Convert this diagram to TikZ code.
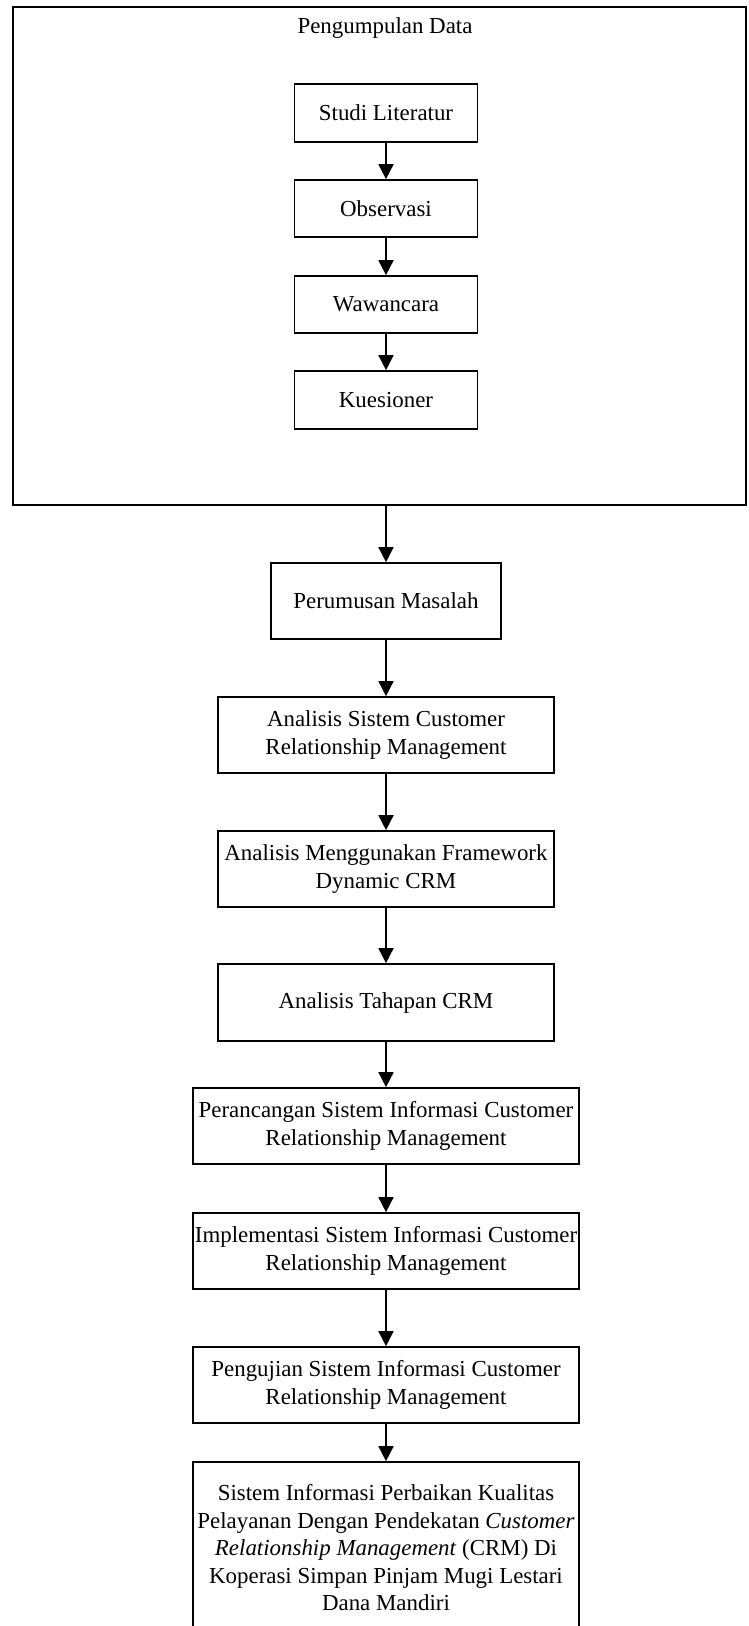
\documentclass[tikz,border=0pt]{standalone}
\usepackage{fontspec}
\setmainfont{Liberation Serif}
\usetikzlibrary{arrows.meta}
\newcommand\diagfs{\fontsize{22.9pt}{27.5pt}\selectfont}
\tikzset{
  box/.style={draw=black, line width=1.7pt, inner sep=0pt, align=center, font=\diagfs, text=black},
  arr/.style={-{Triangle[width=15pt,length=15pt]}, line width=1.7pt, draw=black},
}
\begin{document}
\begin{tikzpicture}[x=1pt,y=1pt]
\useasboundingbox (0,0) rectangle (748,-1626);
\clip (0,0) rectangle (748,-1626);
\fill[white] (0,0) rectangle (748,-1626);
% outer group
\node[box, minimum width=733pt, minimum height=498pt] (outer) at (379.5,-256) {};
\node[font=\diagfs, inner sep=0pt] (title) at (385,-28) {Pengumpulan Data};
\node[box, minimum width=183pt, minimum height=58pt] (sl) at (386,-113) {Studi Literatur};
\node[box, minimum width=183pt, minimum height=57pt] (obs) at (386,-208.5) {Observasi};
\node[box, minimum width=183pt, minimum height=57pt] (waw) at (386,-304.5) {Wawancara};
\node[box, minimum width=183pt, minimum height=58pt] (kue) at (386,-400) {Kuesioner};
% main flow
\node[box, minimum width=230pt, minimum height=76pt] (per) at (386,-601) {Perumusan Masalah};
\node[box, minimum width=336pt, minimum height=76pt] (asc) at (386,-735) {Analisis Sistem Customer\\Relationship Management};
\node[box, minimum width=336pt, minimum height=76pt] (amf) at (386,-869) {Analisis Menggunakan Framework\\Dynamic CRM};
\node[box, minimum width=336pt, minimum height=77pt] (atc) at (386,-1002.5) {Analisis Tahapan CRM};
\node[box, minimum width=386pt, minimum height=76pt] (prc) at (386,-1126) {Perancangan Sistem Informasi Customer\\Relationship Management};
\node[box, minimum width=386pt, minimum height=76pt] (imp) at (386,-1251) {Implementasi Sistem Informasi Customer\\Relationship Management};
\node[box, minimum width=386pt, minimum height=76pt] (pgj) at (386,-1385) {Pengujian Sistem Informasi Customer\\Relationship Management};
\node[box, minimum width=386pt, minimum height=172pt] (fin) at (386,-1548) {Sistem Informasi Perbaikan Kualitas\\Pelayanan Dengan Pendekatan \textit{Customer}\\\textit{Relationship Management} (CRM) Di\\Koperasi Simpan Pinjam Mugi Lestari\\Dana Mandiri};
% connectors
\draw[arr] (sl) -- (obs);
\draw[arr] (obs) -- (waw);
\draw[arr] (waw) -- (kue);
\draw[arr] (outer.south -| per.north) -- (per.north);
\draw[arr] (per) -- (asc);
\draw[arr] (asc) -- (amf);
\draw[arr] (amf) -- (atc);
\draw[arr] (atc) -- (prc);
\draw[arr] (prc) -- (imp);
\draw[arr] (imp) -- (pgj);
\draw[arr] (pgj) -- (fin);
\end{tikzpicture}
\end{document}
